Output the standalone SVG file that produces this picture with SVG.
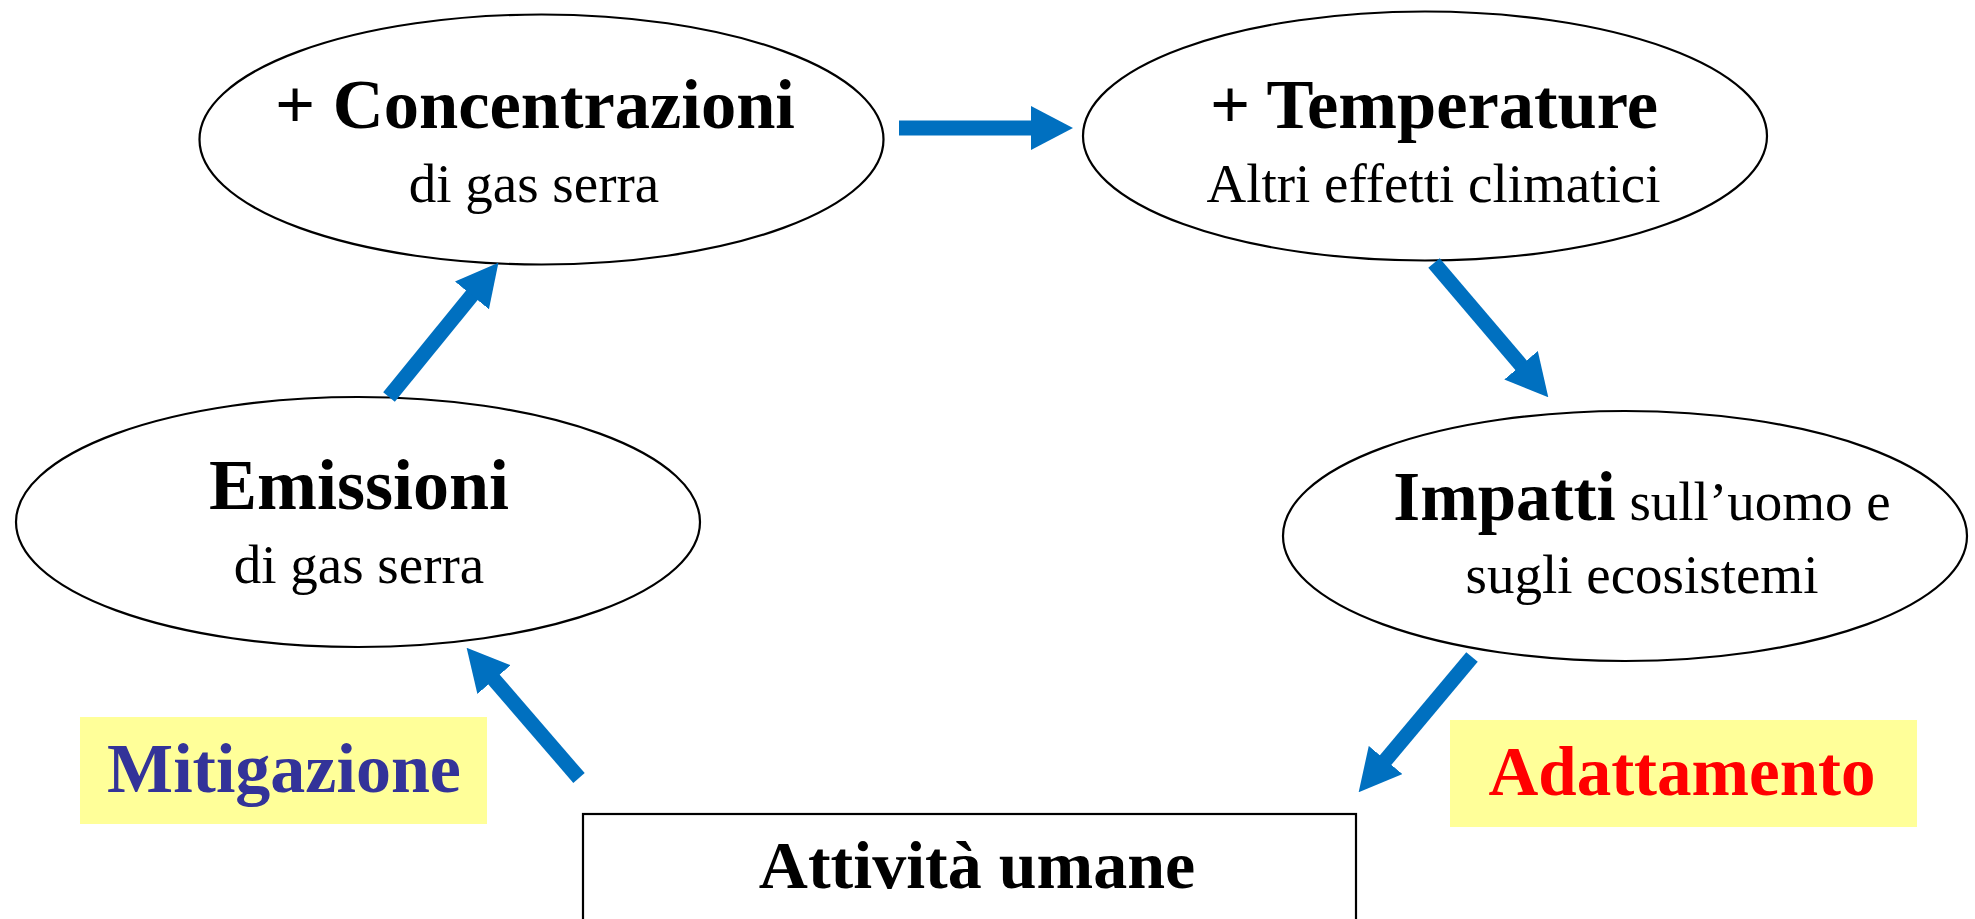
<svg xmlns="http://www.w3.org/2000/svg" width="1975" height="919" viewBox="0 0 1975 919">
<style>
.node{fill:#fff;stroke:#000;stroke-width:2.2}
.t{font-family:"Liberation Serif","Times New Roman",serif;text-anchor:middle;fill:#000}
.b{font-weight:bold;font-size:68px}
.r{font-size:55px}
.arr{stroke:#0070C0;stroke-width:15;fill:none}
.lab{fill:#FFFF99}
</style>
<defs>
<marker id="ah" markerUnits="userSpaceOnUse" viewBox="0 0 42 44" markerWidth="42" markerHeight="44" refX="1" refY="22" orient="auto">
<path d="M0,0 L42,22 L0,44 z" fill="#0070C0"/>
</marker>
</defs>
<rect width="1975" height="919" fill="#fff"/>
<g id="conc">
<ellipse class="node" cx="541.5" cy="139.5" rx="342" ry="125"/>
<text class="t b" x="535" y="128" style="font-size:70.5px">+ Concentrazioni</text>
<text class="t r" x="534" y="202">di gas serra</text>
</g>
<g id="temp">
<ellipse class="node" cx="1425" cy="136" rx="342" ry="124.5"/>
<text class="t b" x="1434" y="128" style="font-size:70.5px">+ Temperature</text>
<text class="t r" x="1433.5" y="202">Altri effetti climatici</text>
</g>
<g id="emis">
<ellipse class="node" cx="358" cy="522" rx="342" ry="125"/>
<text class="t b" x="359" y="509" style="font-size:72px">Emissioni</text>
<text class="t r" x="359" y="583">di gas serra</text>
</g>
<g id="imp">
<ellipse class="node" cx="1625" cy="536" rx="342" ry="125"/>
<text class="t" x="1642" y="520"><tspan class="b" style="font-size:69px">Impatti</tspan><tspan class="r"> sull’uomo e</tspan></text>
<text class="t r" x="1642" y="593">sugli ecosistemi</text>
</g>
<g id="att">
<rect class="node" x="583" y="814" width="773" height="130"/>
<text class="t b" x="977" y="888">Attività umane</text>
</g>
<g id="mit">
<rect class="lab" x="80" y="717" width="407" height="107"/>
<text class="t" x="284" y="792" style="font-weight:bold;font-size:70px;fill:#333399">Mitigazione</text>
</g>
<g id="adat">
<rect class="lab" x="1450" y="720" width="467" height="107"/>
<text class="t" x="1682" y="795" style="font-weight:bold;font-size:69px;fill:#FF0000">Adattamento</text>
</g>
<g id="connectors">
<line class="arr" x1="899" y1="128" x2="1032" y2="128" marker-end="url(#ah)"/>
<line class="arr" x1="389" y1="397" x2="472.5" y2="294.6" marker-end="url(#ah)"/>
<line class="arr" x1="1434" y1="263" x2="1521.7" y2="366" marker-end="url(#ah)"/>
<line class="arr" x1="1472" y1="657" x2="1385" y2="760.8" marker-end="url(#ah)"/>
<line class="arr" x1="579" y1="778" x2="493.4" y2="678.8" marker-end="url(#ah)"/>
</g>
</svg>
